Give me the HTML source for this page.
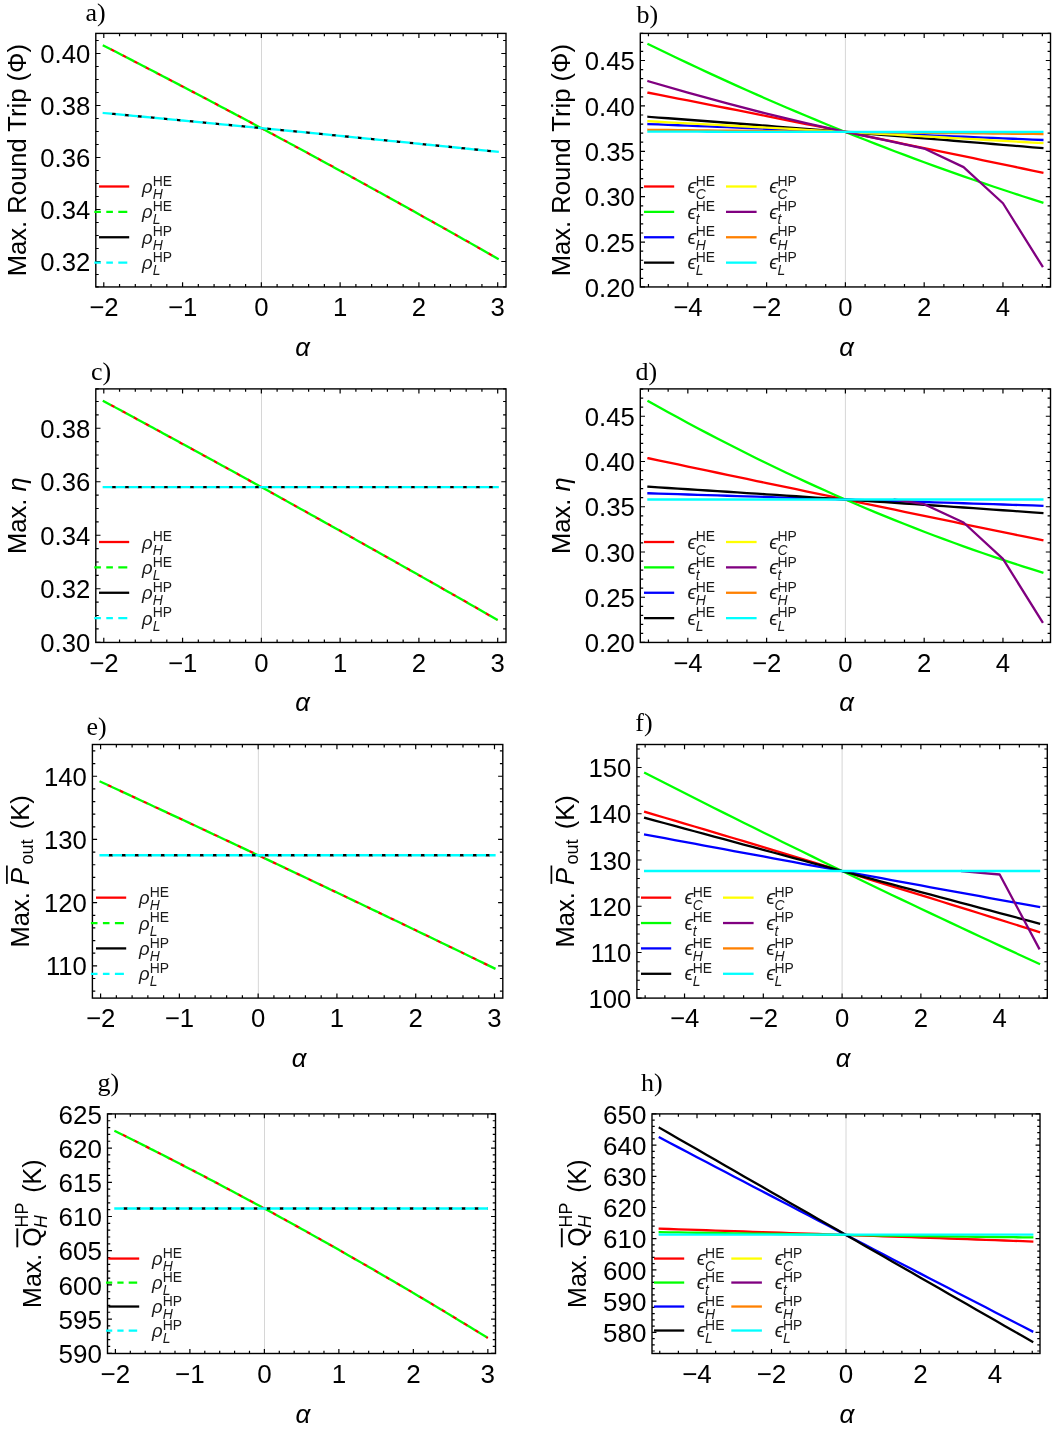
<!DOCTYPE html>
<html><head><meta charset="utf-8"><title>Figure</title>
<style>html,body{margin:0;padding:0;background:#fff}svg{display:block;will-change:transform}</style>
</head><body>
<svg width="1061" height="1430" viewBox="0 0 1061 1430" font-family='"Liberation Sans", sans-serif' fill="#000">
<rect width="1061" height="1430" fill="#fff"/>
<g>
<line x1="261.5" y1="33.4" x2="261.5" y2="286.95" stroke="#d6d6d6" stroke-width="1"/>
<clipPath id="cpa"><rect x="95.8" y="33.4" width="410.2" height="253.55"/></clipPath>
<g clip-path="url(#cpa)" fill="none" stroke-linejoin="round">
<polyline points="103.79,45.7 113.64,50.74 123.49,55.8 133.33,60.87 143.18,65.96 153.03,71.06 162.88,76.18 172.72,81.31 182.57,86.45 192.42,91.61 202.27,96.78 212.11,101.97 221.96,107.17 231.81,112.39 241.66,117.62 251.5,122.86 261.35,128.12 271.2,133.39 281.05,138.68 290.89,143.98 300.74,149.3 310.59,154.63 320.44,159.97 330.28,165.33 340.13,170.71 349.98,176.1 359.83,181.5 369.67,186.92 379.52,192.35 389.37,197.79 399.22,203.25 409.06,208.73 418.91,214.21 428.76,219.72 438.61,225.23 448.45,230.77 458.3,236.31 468.15,241.87 478,247.45 487.84,253.04 497.69,258.64" stroke="#ff0000" stroke-width="2.3" stroke-linecap="butt" stroke-dasharray="4.4 8.6" stroke-dashoffset="5.05"/>
<polyline points="103.79,45.7 113.64,50.74 123.49,55.8 133.33,60.87 143.18,65.96 153.03,71.06 162.88,76.18 172.72,81.31 182.57,86.45 192.42,91.61 202.27,96.78 212.11,101.97 221.96,107.17 231.81,112.39 241.66,117.62 251.5,122.86 261.35,128.12 271.2,133.39 281.05,138.68 290.89,143.98 300.74,149.3 310.59,154.63 320.44,159.97 330.28,165.33 340.13,170.71 349.98,176.1 359.83,181.5 369.67,186.92 379.52,192.35 389.37,197.79 399.22,203.25 409.06,208.73 418.91,214.21 428.76,219.72 438.61,225.23 448.45,230.77 458.3,236.31 468.15,241.87 478,247.45 487.84,253.04 497.69,258.64" stroke="#00ff00" stroke-width="2.3" stroke-linecap="square" stroke-dasharray="7.3 5.7"/>
<polyline points="103.79,113.04 113.64,113.97 123.49,114.89 133.33,115.83 143.18,116.76 153.03,117.69 162.88,118.63 172.72,119.57 182.57,120.51 192.42,121.45 202.27,122.4 212.11,123.35 221.96,124.3 231.81,125.25 241.66,126.2 251.5,127.16 261.35,128.12 271.2,129.08 281.05,130.04 290.89,131.01 300.74,131.98 310.59,132.95 320.44,133.92 330.28,134.89 340.13,135.87 349.98,136.85 359.83,137.83 369.67,138.81 379.52,139.79 389.37,140.78 399.22,141.77 409.06,142.76 418.91,143.75 428.76,144.75 438.61,145.75 448.45,146.75 458.3,147.75 468.15,148.75 478,149.76 487.84,150.77 497.69,151.78" stroke="#000000" stroke-width="2.3" stroke-linecap="butt" stroke-dasharray="4.4 8.6" stroke-dashoffset="5.05"/>
<polyline points="103.79,113.04 113.64,113.97 123.49,114.89 133.33,115.83 143.18,116.76 153.03,117.69 162.88,118.63 172.72,119.57 182.57,120.51 192.42,121.45 202.27,122.4 212.11,123.35 221.96,124.3 231.81,125.25 241.66,126.2 251.5,127.16 261.35,128.12 271.2,129.08 281.05,130.04 290.89,131.01 300.74,131.98 310.59,132.95 320.44,133.92 330.28,134.89 340.13,135.87 349.98,136.85 359.83,137.83 369.67,138.81 379.52,139.79 389.37,140.78 399.22,141.77 409.06,142.76 418.91,143.75 428.76,144.75 438.61,145.75 448.45,146.75 458.3,147.75 468.15,148.75 478,149.76 487.84,150.77 497.69,151.78" stroke="#00ffff" stroke-width="2.3" stroke-linecap="square" stroke-dasharray="7.3 5.7"/>
</g>
<text x="103.79" y="316.25" font-size="25.7" text-anchor="middle">−2</text>
<text x="182.57" y="316.25" font-size="25.7" text-anchor="middle">−1</text>
<text x="261.35" y="316.25" font-size="25.7" text-anchor="middle">0</text>
<text x="340.13" y="316.25" font-size="25.7" text-anchor="middle">1</text>
<text x="418.91" y="316.25" font-size="25.7" text-anchor="middle">2</text>
<text x="497.69" y="316.25" font-size="25.7" text-anchor="middle">3</text>
<text x="90.3" y="271.1" font-size="25.7" text-anchor="end">0.32</text>
<text x="90.3" y="219.1" font-size="25.7" text-anchor="end">0.34</text>
<text x="90.3" y="167.1" font-size="25.7" text-anchor="end">0.36</text>
<text x="90.3" y="115.1" font-size="25.7" text-anchor="end">0.38</text>
<text x="90.3" y="63.1" font-size="25.7" text-anchor="end">0.40</text>
<path d="M103.79 286.95v-4.7M103.79 33.4v4.7M119.55 286.95v-2.9M119.55 33.4v2.9M135.3 286.95v-2.9M135.3 33.4v2.9M151.06 286.95v-2.9M151.06 33.4v2.9M166.81 286.95v-2.9M166.81 33.4v2.9M182.57 286.95v-4.7M182.57 33.4v4.7M198.33 286.95v-2.9M198.33 33.4v2.9M214.08 286.95v-2.9M214.08 33.4v2.9M229.84 286.95v-2.9M229.84 33.4v2.9M245.59 286.95v-2.9M245.59 33.4v2.9M261.35 286.95v-4.7M261.35 33.4v4.7M277.11 286.95v-2.9M277.11 33.4v2.9M292.86 286.95v-2.9M292.86 33.4v2.9M308.62 286.95v-2.9M308.62 33.4v2.9M324.37 286.95v-2.9M324.37 33.4v2.9M340.13 286.95v-4.7M340.13 33.4v4.7M355.89 286.95v-2.9M355.89 33.4v2.9M371.64 286.95v-2.9M371.64 33.4v2.9M387.4 286.95v-2.9M387.4 33.4v2.9M403.15 286.95v-2.9M403.15 33.4v2.9M418.91 286.95v-4.7M418.91 33.4v4.7M434.67 286.95v-2.9M434.67 33.4v2.9M450.42 286.95v-2.9M450.42 33.4v2.9M466.18 286.95v-2.9M466.18 33.4v2.9M481.93 286.95v-2.9M481.93 33.4v2.9M497.69 286.95v-4.7M497.69 33.4v4.7M95.8 286.95h2.9M506 286.95h-2.9M95.8 274.5h2.9M506 274.5h-2.9M95.8 261.5h4.7M506 261.5h-4.7M95.8 248.5h2.9M506 248.5h-2.9M95.8 235.5h2.9M506 235.5h-2.9M95.8 222.5h2.9M506 222.5h-2.9M95.8 209.5h4.7M506 209.5h-4.7M95.8 196.5h2.9M506 196.5h-2.9M95.8 183.5h2.9M506 183.5h-2.9M95.8 170.5h2.9M506 170.5h-2.9M95.8 157.5h4.7M506 157.5h-4.7M95.8 144.5h2.9M506 144.5h-2.9M95.8 131.5h2.9M506 131.5h-2.9M95.8 118.5h2.9M506 118.5h-2.9M95.8 105.5h4.7M506 105.5h-4.7M95.8 92.5h2.9M506 92.5h-2.9M95.8 79.5h2.9M506 79.5h-2.9M95.8 66.5h2.9M506 66.5h-2.9M95.8 53.5h4.7M506 53.5h-4.7M95.8 40.5h2.9M506 40.5h-2.9" stroke="#000" stroke-width="1.2" fill="none"/>
<rect x="95.8" y="33.4" width="410.2" height="253.55" fill="none" stroke="#000" stroke-width="1.4"/>
<text x="302.5" y="356" font-size="25.7" font-style="italic" text-anchor="middle">α</text>
<g transform="translate(25.5 276.37) rotate(-90)"><text x="0" y="0" font-size="25.6">Max. Round Trip (Φ)</text></g>
<text x="85.5" y="21.2" font-family='"Liberation Serif", serif' font-size="26">a)</text>
<line x1="99" y1="186.5" x2="129.2" y2="186.5" stroke="#ff0000" stroke-width="2.3"/>
<text x="142.1" y="193" font-size="18.5" fill="#1a1a1a" font-style="italic">ρ</text><text x="152.7" y="185.7" font-size="13.9" fill="#1a1a1a">HE</text><text x="152.7" y="199" font-size="13.9" fill="#1a1a1a" font-style="italic">H</text>
<line x1="94.3" y1="211.88" x2="127.3" y2="211.88" stroke="#00ff00" stroke-width="2.3" stroke-dasharray="6.6 5.4 6.6 5.4 9 99"/>
<text x="142.1" y="218.38" font-size="18.5" fill="#1a1a1a" font-style="italic">ρ</text><text x="152.7" y="211.08" font-size="13.9" fill="#1a1a1a">HE</text><text x="152.7" y="224.38" font-size="13.9" fill="#1a1a1a" font-style="italic">L</text>
<line x1="99" y1="237.26" x2="129.2" y2="237.26" stroke="#000000" stroke-width="2.3"/>
<text x="142.1" y="243.76" font-size="18.5" fill="#1a1a1a" font-style="italic">ρ</text><text x="152.7" y="236.46" font-size="13.9" fill="#1a1a1a">HP</text><text x="152.7" y="249.76" font-size="13.9" fill="#1a1a1a" font-style="italic">H</text>
<line x1="94.3" y1="262.64" x2="127.3" y2="262.64" stroke="#00ffff" stroke-width="2.3" stroke-dasharray="6.6 5.4 6.6 5.4 9 99"/>
<text x="142.1" y="269.14" font-size="18.5" fill="#1a1a1a" font-style="italic">ρ</text><text x="152.7" y="261.84" font-size="13.9" fill="#1a1a1a">HP</text><text x="152.7" y="275.14" font-size="13.9" fill="#1a1a1a" font-style="italic">L</text>
</g>
<g>
<line x1="845.4" y1="33.4" x2="845.4" y2="286.95" stroke="#d6d6d6" stroke-width="1"/>
<clipPath id="cpb"><rect x="640.3" y="33.4" width="410.2" height="253.55"/></clipPath>
<g clip-path="url(#cpb)" fill="none" stroke-linejoin="round">
<polyline points="648.45,92.73 658.3,94.66 668.14,96.59 677.99,98.53 687.84,100.46 697.69,102.4 707.53,104.35 717.38,106.3 727.23,108.25 737.08,110.21 746.92,112.17 756.77,114.13 766.62,116.1 776.47,118.07 786.31,120.04 796.16,122.02 806.01,124 815.86,125.98 825.7,127.97 835.55,129.96 845.4,131.96 855.25,133.96 865.1,135.96 874.94,137.97 884.79,139.98 894.64,141.99 904.49,144.01 914.33,146.03 924.18,148.06 934.03,150.09 943.88,152.12 953.72,154.15 963.57,156.19 973.42,158.24 983.26,160.28 993.11,162.33 1002.96,164.39 1012.81,166.44 1022.65,168.5 1032.5,170.57 1042.35,172.64" stroke="#ff0000" stroke-width="2.3" stroke-linecap="square"/>
<polyline points="648.45,44.25 658.3,49.04 668.14,53.79 677.99,58.5 687.84,63.16 697.69,67.78 707.53,72.36 717.38,76.9 727.23,81.39 737.08,85.84 746.92,90.25 756.77,94.61 766.62,98.93 776.47,103.21 786.31,107.45 796.16,111.64 806.01,115.79 815.86,119.9 825.7,123.96 835.55,127.98 845.4,131.96 855.25,135.89 865.1,139.79 874.94,143.64 884.79,147.44 894.64,151.21 904.49,154.93 914.33,158.6 924.18,162.24 934.03,165.83 943.88,169.38 953.72,172.89 963.57,176.35 973.42,179.77 983.26,183.15 993.11,186.48 1002.96,189.77 1012.81,193.02 1022.65,196.23 1032.5,199.39 1042.35,202.51" stroke="#00ff00" stroke-width="2.3" stroke-linecap="square"/>
<polyline points="648.45,124.06 658.3,124.45 668.14,124.85 677.99,125.24 687.84,125.63 697.69,126.03 707.53,126.42 717.38,126.81 727.23,127.21 737.08,127.6 746.92,128 756.77,128.39 766.62,128.79 776.47,129.18 786.31,129.58 796.16,129.98 806.01,130.37 815.86,130.77 825.7,131.17 835.55,131.56 845.4,131.96 855.25,132.36 865.1,132.75 874.94,133.15 884.79,133.55 894.64,133.95 904.49,134.35 914.33,134.75 924.18,135.14 934.03,135.54 943.88,135.94 953.72,136.34 963.57,136.74 973.42,137.14 983.26,137.54 993.11,137.94 1002.96,138.34 1012.81,138.75 1022.65,139.15 1032.5,139.55 1042.35,139.95" stroke="#0000ff" stroke-width="2.3" stroke-linecap="square"/>
<polyline points="648.45,116.8 658.3,117.53 668.14,118.27 677.99,119.01 687.84,119.75 697.69,120.49 707.53,121.24 717.38,121.99 727.23,122.74 737.08,123.5 746.92,124.25 756.77,125.01 766.62,125.77 776.47,126.54 786.31,127.31 796.16,128.08 806.01,128.85 815.86,129.62 825.7,130.4 835.55,131.18 845.4,131.96 855.25,132.74 865.1,133.53 874.94,134.32 884.79,135.11 894.64,135.91 904.49,136.7 914.33,137.5 924.18,138.3 934.03,139.11 943.88,139.92 953.72,140.73 963.57,141.54 973.42,142.35 983.26,143.17 993.11,143.99 1002.96,144.81 1012.81,145.63 1022.65,146.46 1032.5,147.29 1042.35,148.12" stroke="#000000" stroke-width="2.3" stroke-linecap="square"/>
<polyline points="648.45,121.25 658.3,121.77 668.14,122.3 677.99,122.82 687.84,123.35 697.69,123.88 707.53,124.41 717.38,124.94 727.23,125.48 737.08,126.01 746.92,126.55 756.77,127.08 766.62,127.62 776.47,128.16 786.31,128.7 796.16,129.24 806.01,129.78 815.86,130.32 825.7,130.87 835.55,131.41 845.4,131.96 855.25,132.51 865.1,133.06 874.94,133.61 884.79,134.16 894.64,134.71 904.49,135.26 914.33,135.82 924.18,136.37 934.03,136.93 943.88,137.49 953.72,138.05 963.57,138.61 973.42,139.17 983.26,139.73 993.11,140.29 1002.96,140.86 1012.81,141.42 1022.65,141.99 1032.5,142.56 1042.35,143.13" stroke="#ffff00" stroke-width="2.3" stroke-linecap="square"/>
<polyline points="648.45,81.29 687.84,92.55 727.23,103.36 766.62,113.62 806.01,123.15 845.4,131.96 884.79,140.22 924.18,148.58 963.57,167.1 1002.96,203.24 1042.35,266.25" stroke="#800080" stroke-width="2.3" stroke-linecap="square"/>
<polyline points="648.45,129.78 658.3,129.89 668.14,130 677.99,130.11 687.84,130.22 697.69,130.33 707.53,130.44 717.38,130.55 727.23,130.66 737.08,130.77 746.92,130.88 756.77,130.99 766.62,131.1 776.47,131.21 786.31,131.32 796.16,131.42 806.01,131.53 815.86,131.64 825.7,131.75 835.55,131.85 845.4,131.96 855.25,132.07 865.1,132.17 874.94,132.28 884.79,132.38 894.64,132.49 904.49,132.6 914.33,132.7 924.18,132.81 934.03,132.91 943.88,133.02 953.72,133.12 963.57,133.22 973.42,133.33 983.26,133.43 993.11,133.53 1002.96,133.64 1012.81,133.74 1022.65,133.84 1032.5,133.95 1042.35,134.05" stroke="#ff8000" stroke-width="2.3" stroke-linecap="square"/>
<polyline points="648.45,131.6 658.3,131.62 668.14,131.65 677.99,131.67 687.84,131.7 697.69,131.72 707.53,131.74 717.38,131.76 727.23,131.79 737.08,131.8 746.92,131.82 756.77,131.84 766.62,131.86 776.47,131.87 786.31,131.89 796.16,131.9 806.01,131.92 815.86,131.93 825.7,131.94 835.55,131.95 845.4,131.96 855.25,131.97 865.1,131.98 874.94,131.98 884.79,131.99 894.64,131.99 904.49,132 914.33,132 924.18,132 934.03,132 943.88,132 953.72,132 963.57,132 973.42,132 983.26,132 993.11,131.99 1002.96,131.99 1012.81,131.98 1022.65,131.98 1032.5,131.97 1042.35,131.96" stroke="#00ffff" stroke-width="2.3" stroke-linecap="square"/>
</g>
<text x="687.84" y="316.25" font-size="25.7" text-anchor="middle">−4</text>
<text x="766.62" y="316.25" font-size="25.7" text-anchor="middle">−2</text>
<text x="845.4" y="316.25" font-size="25.7" text-anchor="middle">0</text>
<text x="924.18" y="316.25" font-size="25.7" text-anchor="middle">2</text>
<text x="1002.96" y="316.25" font-size="25.7" text-anchor="middle">4</text>
<text x="634.8" y="296.55" font-size="25.7" text-anchor="end">0.20</text>
<text x="634.8" y="251.7" font-size="25.7" text-anchor="end">0.25</text>
<text x="634.8" y="206.3" font-size="25.7" text-anchor="end">0.30</text>
<text x="634.8" y="160.9" font-size="25.7" text-anchor="end">0.35</text>
<text x="634.8" y="115.5" font-size="25.7" text-anchor="end">0.40</text>
<text x="634.8" y="70.1" font-size="25.7" text-anchor="end">0.45</text>
<path d="M648.45 286.95v-2.9M648.45 33.4v2.9M668.14 286.95v-2.9M668.14 33.4v2.9M687.84 286.95v-4.7M687.84 33.4v4.7M707.53 286.95v-2.9M707.53 33.4v2.9M727.23 286.95v-2.9M727.23 33.4v2.9M746.92 286.95v-2.9M746.92 33.4v2.9M766.62 286.95v-4.7M766.62 33.4v4.7M786.31 286.95v-2.9M786.31 33.4v2.9M806.01 286.95v-2.9M806.01 33.4v2.9M825.7 286.95v-2.9M825.7 33.4v2.9M845.4 286.95v-4.7M845.4 33.4v4.7M865.1 286.95v-2.9M865.1 33.4v2.9M884.79 286.95v-2.9M884.79 33.4v2.9M904.49 286.95v-2.9M904.49 33.4v2.9M924.18 286.95v-4.7M924.18 33.4v4.7M943.88 286.95v-2.9M943.88 33.4v2.9M963.57 286.95v-2.9M963.57 33.4v2.9M983.26 286.95v-2.9M983.26 33.4v2.9M1002.96 286.95v-4.7M1002.96 33.4v4.7M1022.65 286.95v-2.9M1022.65 33.4v2.9M1042.35 286.95v-2.9M1042.35 33.4v2.9M640.3 286.95h4.7M1050.5 286.95h-4.7M640.3 278.42h2.9M1050.5 278.42h-2.9M640.3 269.34h2.9M1050.5 269.34h-2.9M640.3 260.26h2.9M1050.5 260.26h-2.9M640.3 251.18h2.9M1050.5 251.18h-2.9M640.3 242.1h4.7M1050.5 242.1h-4.7M640.3 233.02h2.9M1050.5 233.02h-2.9M640.3 223.94h2.9M1050.5 223.94h-2.9M640.3 214.86h2.9M1050.5 214.86h-2.9M640.3 205.78h2.9M1050.5 205.78h-2.9M640.3 196.7h4.7M1050.5 196.7h-4.7M640.3 187.62h2.9M1050.5 187.62h-2.9M640.3 178.54h2.9M1050.5 178.54h-2.9M640.3 169.46h2.9M1050.5 169.46h-2.9M640.3 160.38h2.9M1050.5 160.38h-2.9M640.3 151.3h4.7M1050.5 151.3h-4.7M640.3 142.22h2.9M1050.5 142.22h-2.9M640.3 133.14h2.9M1050.5 133.14h-2.9M640.3 124.06h2.9M1050.5 124.06h-2.9M640.3 114.98h2.9M1050.5 114.98h-2.9M640.3 105.9h4.7M1050.5 105.9h-4.7M640.3 96.82h2.9M1050.5 96.82h-2.9M640.3 87.74h2.9M1050.5 87.74h-2.9M640.3 78.66h2.9M1050.5 78.66h-2.9M640.3 69.58h2.9M1050.5 69.58h-2.9M640.3 60.5h4.7M1050.5 60.5h-4.7M640.3 51.42h2.9M1050.5 51.42h-2.9M640.3 42.34h2.9M1050.5 42.34h-2.9M640.3 33.4h2.9M1050.5 33.4h-2.9" stroke="#000" stroke-width="1.2" fill="none"/>
<rect x="640.3" y="33.4" width="410.2" height="253.55" fill="none" stroke="#000" stroke-width="1.4"/>
<text x="846.5" y="356" font-size="25.7" font-style="italic" text-anchor="middle">α</text>
<g transform="translate(570 276.37) rotate(-90)"><text x="0" y="0" font-size="25.6">Max. Round Trip (Φ)</text></g>
<text x="636.5" y="22.7" font-family='"Liberation Serif", serif' font-size="26">b)</text>
<line x1="644" y1="186.5" x2="674.2" y2="186.5" stroke="#ff0000" stroke-width="2.3"/>
<text x="687.4" y="193.2" font-size="20" fill="#1a1a1a" font-style="italic">ϵ</text><text x="695.7" y="185.7" font-size="13.9" fill="#1a1a1a">HE</text><text x="695.7" y="199" font-size="13.9" fill="#1a1a1a" font-style="italic">C</text>
<line x1="644" y1="211.88" x2="674.2" y2="211.88" stroke="#00ff00" stroke-width="2.3"/>
<text x="687.4" y="218.58" font-size="20" fill="#1a1a1a" font-style="italic">ϵ</text><text x="695.7" y="211.08" font-size="13.9" fill="#1a1a1a">HE</text><text x="695.7" y="224.38" font-size="13.9" fill="#1a1a1a" font-style="italic">t</text>
<line x1="644" y1="237.26" x2="674.2" y2="237.26" stroke="#0000ff" stroke-width="2.3"/>
<text x="687.4" y="243.96" font-size="20" fill="#1a1a1a" font-style="italic">ϵ</text><text x="695.7" y="236.46" font-size="13.9" fill="#1a1a1a">HE</text><text x="695.7" y="249.76" font-size="13.9" fill="#1a1a1a" font-style="italic">H</text>
<line x1="644" y1="262.64" x2="674.2" y2="262.64" stroke="#000000" stroke-width="2.3"/>
<text x="687.4" y="269.34" font-size="20" fill="#1a1a1a" font-style="italic">ϵ</text><text x="695.7" y="261.84" font-size="13.9" fill="#1a1a1a">HE</text><text x="695.7" y="275.14" font-size="13.9" fill="#1a1a1a" font-style="italic">L</text>
<line x1="726" y1="186.5" x2="756.6" y2="186.5" stroke="#ffff00" stroke-width="2.3"/>
<text x="769.2" y="193.2" font-size="20" fill="#1a1a1a" font-style="italic">ϵ</text><text x="777.5" y="185.7" font-size="13.9" fill="#1a1a1a">HP</text><text x="777.5" y="199" font-size="13.9" fill="#1a1a1a" font-style="italic">C</text>
<line x1="726" y1="211.88" x2="756.6" y2="211.88" stroke="#800080" stroke-width="2.3"/>
<text x="769.2" y="218.58" font-size="20" fill="#1a1a1a" font-style="italic">ϵ</text><text x="777.5" y="211.08" font-size="13.9" fill="#1a1a1a">HP</text><text x="777.5" y="224.38" font-size="13.9" fill="#1a1a1a" font-style="italic">t</text>
<line x1="726" y1="237.26" x2="756.6" y2="237.26" stroke="#ff8000" stroke-width="2.3"/>
<text x="769.2" y="243.96" font-size="20" fill="#1a1a1a" font-style="italic">ϵ</text><text x="777.5" y="236.46" font-size="13.9" fill="#1a1a1a">HP</text><text x="777.5" y="249.76" font-size="13.9" fill="#1a1a1a" font-style="italic">H</text>
<line x1="726" y1="262.64" x2="756.6" y2="262.64" stroke="#00ffff" stroke-width="2.3"/>
<text x="769.2" y="269.34" font-size="20" fill="#1a1a1a" font-style="italic">ϵ</text><text x="777.5" y="261.84" font-size="13.9" fill="#1a1a1a">HP</text><text x="777.5" y="275.14" font-size="13.9" fill="#1a1a1a" font-style="italic">L</text>
</g>
<g>
<line x1="261.5" y1="388.9" x2="261.5" y2="642.45" stroke="#d6d6d6" stroke-width="1"/>
<clipPath id="cpc"><rect x="95.8" y="388.9" width="410.2" height="253.55"/></clipPath>
<g clip-path="url(#cpc)" fill="none" stroke-linejoin="round">
<polyline points="103.79,401.23 113.64,406.53 123.49,411.85 133.33,417.16 143.18,422.49 153.03,427.83 162.88,433.17 172.72,438.53 182.57,443.89 192.42,449.26 202.27,454.64 212.11,460.03 221.96,465.43 231.81,470.83 241.66,476.25 251.5,481.67 261.35,487.1 271.2,492.54 281.05,497.99 290.89,503.45 300.74,508.91 310.59,514.39 320.44,519.87 330.28,525.36 340.13,530.86 349.98,536.37 359.83,541.89 369.67,547.42 379.52,552.95 389.37,558.5 399.22,564.05 409.06,569.61 418.91,575.18 428.76,580.76 438.61,586.34 448.45,591.94 458.3,597.54 468.15,603.16 478,608.78 487.84,614.41 497.69,620.05" stroke="#ff0000" stroke-width="2.3" stroke-linecap="butt" stroke-dasharray="4.4 8.6" stroke-dashoffset="5.05"/>
<polyline points="103.79,401.23 113.64,406.53 123.49,411.85 133.33,417.16 143.18,422.49 153.03,427.83 162.88,433.17 172.72,438.53 182.57,443.89 192.42,449.26 202.27,454.64 212.11,460.03 221.96,465.43 231.81,470.83 241.66,476.25 251.5,481.67 261.35,487.1 271.2,492.54 281.05,497.99 290.89,503.45 300.74,508.91 310.59,514.39 320.44,519.87 330.28,525.36 340.13,530.86 349.98,536.37 359.83,541.89 369.67,547.42 379.52,552.95 389.37,558.5 399.22,564.05 409.06,569.61 418.91,575.18 428.76,580.76 438.61,586.34 448.45,591.94 458.3,597.54 468.15,603.16 478,608.78 487.84,614.41 497.69,620.05" stroke="#00ff00" stroke-width="2.3" stroke-linecap="square" stroke-dasharray="7.3 5.7"/>
<polyline points="103.79,487.1 497.69,487.1" stroke="#000000" stroke-width="2.3" stroke-linecap="butt" stroke-dasharray="4.4 8.6" stroke-dashoffset="5.05"/>
<polyline points="103.79,487.1 497.69,487.1" stroke="#00ffff" stroke-width="2.3" stroke-linecap="square" stroke-dasharray="7.3 5.7"/>
</g>
<text x="103.79" y="671.75" font-size="25.7" text-anchor="middle">−2</text>
<text x="182.57" y="671.75" font-size="25.7" text-anchor="middle">−1</text>
<text x="261.35" y="671.75" font-size="25.7" text-anchor="middle">0</text>
<text x="340.13" y="671.75" font-size="25.7" text-anchor="middle">1</text>
<text x="418.91" y="671.75" font-size="25.7" text-anchor="middle">2</text>
<text x="497.69" y="671.75" font-size="25.7" text-anchor="middle">3</text>
<text x="90.3" y="651.85" font-size="25.7" text-anchor="end">0.30</text>
<text x="90.3" y="598.35" font-size="25.7" text-anchor="end">0.32</text>
<text x="90.3" y="544.85" font-size="25.7" text-anchor="end">0.34</text>
<text x="90.3" y="491.35" font-size="25.7" text-anchor="end">0.36</text>
<text x="90.3" y="437.85" font-size="25.7" text-anchor="end">0.38</text>
<path d="M103.79 642.45v-4.7M103.79 388.9v4.7M119.55 642.45v-2.9M119.55 388.9v2.9M135.3 642.45v-2.9M135.3 388.9v2.9M151.06 642.45v-2.9M151.06 388.9v2.9M166.81 642.45v-2.9M166.81 388.9v2.9M182.57 642.45v-4.7M182.57 388.9v4.7M198.33 642.45v-2.9M198.33 388.9v2.9M214.08 642.45v-2.9M214.08 388.9v2.9M229.84 642.45v-2.9M229.84 388.9v2.9M245.59 642.45v-2.9M245.59 388.9v2.9M261.35 642.45v-4.7M261.35 388.9v4.7M277.11 642.45v-2.9M277.11 388.9v2.9M292.86 642.45v-2.9M292.86 388.9v2.9M308.62 642.45v-2.9M308.62 388.9v2.9M324.37 642.45v-2.9M324.37 388.9v2.9M340.13 642.45v-4.7M340.13 388.9v4.7M355.89 642.45v-2.9M355.89 388.9v2.9M371.64 642.45v-2.9M371.64 388.9v2.9M387.4 642.45v-2.9M387.4 388.9v2.9M403.15 642.45v-2.9M403.15 388.9v2.9M418.91 642.45v-4.7M418.91 388.9v4.7M434.67 642.45v-2.9M434.67 388.9v2.9M450.42 642.45v-2.9M450.42 388.9v2.9M466.18 642.45v-2.9M466.18 388.9v2.9M481.93 642.45v-2.9M481.93 388.9v2.9M497.69 642.45v-4.7M497.69 388.9v4.7M95.8 642.25h4.7M506 642.25h-4.7M95.8 628.88h2.9M506 628.88h-2.9M95.8 615.5h2.9M506 615.5h-2.9M95.8 602.12h2.9M506 602.12h-2.9M95.8 588.75h4.7M506 588.75h-4.7M95.8 575.37h2.9M506 575.37h-2.9M95.8 562h2.9M506 562h-2.9M95.8 548.62h2.9M506 548.62h-2.9M95.8 535.25h4.7M506 535.25h-4.7M95.8 521.87h2.9M506 521.87h-2.9M95.8 508.5h2.9M506 508.5h-2.9M95.8 495.12h2.9M506 495.12h-2.9M95.8 481.75h4.7M506 481.75h-4.7M95.8 468.38h2.9M506 468.38h-2.9M95.8 455h2.9M506 455h-2.9M95.8 441.62h2.9M506 441.62h-2.9M95.8 428.25h4.7M506 428.25h-4.7M95.8 414.87h2.9M506 414.87h-2.9M95.8 401.5h2.9M506 401.5h-2.9M95.8 388.9h2.9M506 388.9h-2.9" stroke="#000" stroke-width="1.2" fill="none"/>
<rect x="95.8" y="388.9" width="410.2" height="253.55" fill="none" stroke="#000" stroke-width="1.4"/>
<text x="302.5" y="711.2" font-size="25.7" font-style="italic" text-anchor="middle">α</text>
<g transform="translate(25.5 554.07) rotate(-90)"><text x="0" y="0" font-size="25.6">Max. </text><text x="62.58" y="0" font-size="25.6" font-style="italic">η</text></g>
<text x="91" y="380" font-family='"Liberation Serif", serif' font-size="26">c)</text>
<line x1="99" y1="542" x2="129.2" y2="542" stroke="#ff0000" stroke-width="2.3"/>
<text x="142.1" y="548.5" font-size="18.5" fill="#1a1a1a" font-style="italic">ρ</text><text x="152.7" y="541.2" font-size="13.9" fill="#1a1a1a">HE</text><text x="152.7" y="554.5" font-size="13.9" fill="#1a1a1a" font-style="italic">H</text>
<line x1="94.3" y1="567.38" x2="127.3" y2="567.38" stroke="#00ff00" stroke-width="2.3" stroke-dasharray="6.6 5.4 6.6 5.4 9 99"/>
<text x="142.1" y="573.88" font-size="18.5" fill="#1a1a1a" font-style="italic">ρ</text><text x="152.7" y="566.58" font-size="13.9" fill="#1a1a1a">HE</text><text x="152.7" y="579.88" font-size="13.9" fill="#1a1a1a" font-style="italic">L</text>
<line x1="99" y1="592.76" x2="129.2" y2="592.76" stroke="#000000" stroke-width="2.3"/>
<text x="142.1" y="599.26" font-size="18.5" fill="#1a1a1a" font-style="italic">ρ</text><text x="152.7" y="591.96" font-size="13.9" fill="#1a1a1a">HP</text><text x="152.7" y="605.26" font-size="13.9" fill="#1a1a1a" font-style="italic">H</text>
<line x1="94.3" y1="618.14" x2="127.3" y2="618.14" stroke="#00ffff" stroke-width="2.3" stroke-dasharray="6.6 5.4 6.6 5.4 9 99"/>
<text x="142.1" y="624.64" font-size="18.5" fill="#1a1a1a" font-style="italic">ρ</text><text x="152.7" y="617.34" font-size="13.9" fill="#1a1a1a">HP</text><text x="152.7" y="630.64" font-size="13.9" fill="#1a1a1a" font-style="italic">L</text>
</g>
<g>
<line x1="845.4" y1="388.9" x2="845.4" y2="642.45" stroke="#d6d6d6" stroke-width="1"/>
<clipPath id="cpd"><rect x="640.3" y="388.9" width="410.2" height="253.55"/></clipPath>
<g clip-path="url(#cpd)" fill="none" stroke-linejoin="round">
<polyline points="648.45,458.24 658.3,460.32 668.14,462.39 677.99,464.47 687.84,466.54 697.69,468.61 707.53,470.68 717.38,472.75 727.23,474.81 737.08,476.88 746.92,478.94 756.77,481.01 766.62,483.07 776.47,485.13 786.31,487.19 796.16,489.24 806.01,491.3 815.86,493.35 825.7,495.41 835.55,497.46 845.4,499.51 855.25,501.56 865.1,503.61 874.94,505.65 884.79,507.7 894.64,509.74 904.49,511.78 914.33,513.83 924.18,515.87 934.03,517.9 943.88,519.94 953.72,521.98 963.57,524.01 973.42,526.04 983.26,528.07 993.11,530.1 1002.96,532.13 1012.81,534.16 1022.65,536.19 1032.5,538.21 1042.35,540.24" stroke="#ff0000" stroke-width="2.3" stroke-linecap="square"/>
<polyline points="648.45,401.23 658.3,406.74 668.14,412.2 677.99,417.58 687.84,422.91 697.69,428.17 707.53,433.37 717.38,438.51 727.23,443.58 737.08,448.59 746.92,453.54 756.77,458.42 766.62,463.24 776.47,467.99 786.31,472.69 796.16,477.31 806.01,481.88 815.86,486.38 825.7,490.82 835.55,495.2 845.4,499.51 855.25,503.76 865.1,507.94 874.94,512.07 884.79,516.13 894.64,520.12 904.49,524.05 914.33,527.92 924.18,531.73 934.03,535.47 943.88,539.15 953.72,542.76 963.57,546.32 973.42,549.81 983.26,553.23 993.11,556.59 1002.96,559.89 1012.81,563.13 1022.65,566.3 1032.5,569.41 1042.35,572.45" stroke="#00ff00" stroke-width="2.3" stroke-linecap="square"/>
<polyline points="648.45,493.27 658.3,493.58 668.14,493.89 677.99,494.2 687.84,494.51 697.69,494.83 707.53,495.14 717.38,495.45 727.23,495.76 737.08,496.08 746.92,496.39 756.77,496.7 766.62,497.01 776.47,497.32 786.31,497.64 796.16,497.95 806.01,498.26 815.86,498.57 825.7,498.89 835.55,499.2 845.4,499.51 855.25,499.82 865.1,500.13 874.94,500.45 884.79,500.76 894.64,501.07 904.49,501.38 914.33,501.7 924.18,502.01 934.03,502.32 943.88,502.63 953.72,502.94 963.57,503.26 973.42,503.57 983.26,503.88 993.11,504.19 1002.96,504.51 1012.81,504.82 1022.65,505.13 1032.5,505.44 1042.35,505.75" stroke="#0000ff" stroke-width="2.3" stroke-linecap="square"/>
<polyline points="648.45,486.75 658.3,487.37 668.14,487.99 677.99,488.62 687.84,489.24 697.69,489.87 707.53,490.5 717.38,491.13 727.23,491.77 737.08,492.4 746.92,493.04 756.77,493.68 766.62,494.32 776.47,494.96 786.31,495.61 796.16,496.25 806.01,496.9 815.86,497.55 825.7,498.2 835.55,498.85 845.4,499.51 855.25,500.17 865.1,500.83 874.94,501.49 884.79,502.15 894.64,502.81 904.49,503.48 914.33,504.15 924.18,504.82 934.03,505.49 943.88,506.16 953.72,506.84 963.57,507.51 973.42,508.19 983.26,508.87 993.11,509.56 1002.96,510.24 1012.81,510.93 1022.65,511.61 1032.5,512.3 1042.35,512.99" stroke="#000000" stroke-width="2.3" stroke-linecap="square"/>
<polyline points="894.64,499.51 896.61,499.78 924.18,504.22 963.57,522.5 1002.96,558.79 1042.35,621.96" stroke="#800080" stroke-width="2.3" stroke-linecap="square"/>
<polyline points="648.45,499.51 1042.35,499.51" stroke="#00ffff" stroke-width="2.3" stroke-linecap="square"/>
</g>
<text x="687.84" y="671.75" font-size="25.7" text-anchor="middle">−4</text>
<text x="766.62" y="671.75" font-size="25.7" text-anchor="middle">−2</text>
<text x="845.4" y="671.75" font-size="25.7" text-anchor="middle">0</text>
<text x="924.18" y="671.75" font-size="25.7" text-anchor="middle">2</text>
<text x="1002.96" y="671.75" font-size="25.7" text-anchor="middle">4</text>
<text x="634.8" y="652.05" font-size="25.7" text-anchor="end">0.20</text>
<text x="634.8" y="606.85" font-size="25.7" text-anchor="end">0.25</text>
<text x="634.8" y="561.6" font-size="25.7" text-anchor="end">0.30</text>
<text x="634.8" y="516.35" font-size="25.7" text-anchor="end">0.35</text>
<text x="634.8" y="471.1" font-size="25.7" text-anchor="end">0.40</text>
<text x="634.8" y="425.85" font-size="25.7" text-anchor="end">0.45</text>
<path d="M648.45 642.45v-2.9M648.45 388.9v2.9M668.14 642.45v-2.9M668.14 388.9v2.9M687.84 642.45v-4.7M687.84 388.9v4.7M707.53 642.45v-2.9M707.53 388.9v2.9M727.23 642.45v-2.9M727.23 388.9v2.9M746.92 642.45v-2.9M746.92 388.9v2.9M766.62 642.45v-4.7M766.62 388.9v4.7M786.31 642.45v-2.9M786.31 388.9v2.9M806.01 642.45v-2.9M806.01 388.9v2.9M825.7 642.45v-2.9M825.7 388.9v2.9M845.4 642.45v-4.7M845.4 388.9v4.7M865.1 642.45v-2.9M865.1 388.9v2.9M884.79 642.45v-2.9M884.79 388.9v2.9M904.49 642.45v-2.9M904.49 388.9v2.9M924.18 642.45v-4.7M924.18 388.9v4.7M943.88 642.45v-2.9M943.88 388.9v2.9M963.57 642.45v-2.9M963.57 388.9v2.9M983.26 642.45v-2.9M983.26 388.9v2.9M1002.96 642.45v-4.7M1002.96 388.9v4.7M1022.65 642.45v-2.9M1022.65 388.9v2.9M1042.35 642.45v-2.9M1042.35 388.9v2.9M640.3 642.45h4.7M1050.5 642.45h-4.7M640.3 633.45h2.9M1050.5 633.45h-2.9M640.3 624.4h2.9M1050.5 624.4h-2.9M640.3 615.35h2.9M1050.5 615.35h-2.9M640.3 606.3h2.9M1050.5 606.3h-2.9M640.3 597.25h4.7M1050.5 597.25h-4.7M640.3 588.2h2.9M1050.5 588.2h-2.9M640.3 579.15h2.9M1050.5 579.15h-2.9M640.3 570.1h2.9M1050.5 570.1h-2.9M640.3 561.05h2.9M1050.5 561.05h-2.9M640.3 552h4.7M1050.5 552h-4.7M640.3 542.95h2.9M1050.5 542.95h-2.9M640.3 533.9h2.9M1050.5 533.9h-2.9M640.3 524.85h2.9M1050.5 524.85h-2.9M640.3 515.8h2.9M1050.5 515.8h-2.9M640.3 506.75h4.7M1050.5 506.75h-4.7M640.3 497.7h2.9M1050.5 497.7h-2.9M640.3 488.65h2.9M1050.5 488.65h-2.9M640.3 479.6h2.9M1050.5 479.6h-2.9M640.3 470.55h2.9M1050.5 470.55h-2.9M640.3 461.5h4.7M1050.5 461.5h-4.7M640.3 452.45h2.9M1050.5 452.45h-2.9M640.3 443.4h2.9M1050.5 443.4h-2.9M640.3 434.35h2.9M1050.5 434.35h-2.9M640.3 425.3h2.9M1050.5 425.3h-2.9M640.3 416.25h4.7M1050.5 416.25h-4.7M640.3 407.2h2.9M1050.5 407.2h-2.9M640.3 398.15h2.9M1050.5 398.15h-2.9M640.3 389.1h2.9M1050.5 389.1h-2.9" stroke="#000" stroke-width="1.2" fill="none"/>
<rect x="640.3" y="388.9" width="410.2" height="253.55" fill="none" stroke="#000" stroke-width="1.4"/>
<text x="846.5" y="711.2" font-size="25.7" font-style="italic" text-anchor="middle">α</text>
<g transform="translate(570 554.07) rotate(-90)"><text x="0" y="0" font-size="25.6">Max. </text><text x="62.58" y="0" font-size="25.6" font-style="italic">η</text></g>
<text x="635.4" y="380" font-family='"Liberation Serif", serif' font-size="26">d)</text>
<line x1="644" y1="542" x2="674.2" y2="542" stroke="#ff0000" stroke-width="2.3"/>
<text x="687.4" y="548.7" font-size="20" fill="#1a1a1a" font-style="italic">ϵ</text><text x="695.7" y="541.2" font-size="13.9" fill="#1a1a1a">HE</text><text x="695.7" y="554.5" font-size="13.9" fill="#1a1a1a" font-style="italic">C</text>
<line x1="644" y1="567.38" x2="674.2" y2="567.38" stroke="#00ff00" stroke-width="2.3"/>
<text x="687.4" y="574.08" font-size="20" fill="#1a1a1a" font-style="italic">ϵ</text><text x="695.7" y="566.58" font-size="13.9" fill="#1a1a1a">HE</text><text x="695.7" y="579.88" font-size="13.9" fill="#1a1a1a" font-style="italic">t</text>
<line x1="644" y1="592.76" x2="674.2" y2="592.76" stroke="#0000ff" stroke-width="2.3"/>
<text x="687.4" y="599.46" font-size="20" fill="#1a1a1a" font-style="italic">ϵ</text><text x="695.7" y="591.96" font-size="13.9" fill="#1a1a1a">HE</text><text x="695.7" y="605.26" font-size="13.9" fill="#1a1a1a" font-style="italic">H</text>
<line x1="644" y1="618.14" x2="674.2" y2="618.14" stroke="#000000" stroke-width="2.3"/>
<text x="687.4" y="624.84" font-size="20" fill="#1a1a1a" font-style="italic">ϵ</text><text x="695.7" y="617.34" font-size="13.9" fill="#1a1a1a">HE</text><text x="695.7" y="630.64" font-size="13.9" fill="#1a1a1a" font-style="italic">L</text>
<line x1="726" y1="542" x2="756.6" y2="542" stroke="#ffff00" stroke-width="2.3"/>
<text x="769.2" y="548.7" font-size="20" fill="#1a1a1a" font-style="italic">ϵ</text><text x="777.5" y="541.2" font-size="13.9" fill="#1a1a1a">HP</text><text x="777.5" y="554.5" font-size="13.9" fill="#1a1a1a" font-style="italic">C</text>
<line x1="726" y1="567.38" x2="756.6" y2="567.38" stroke="#800080" stroke-width="2.3"/>
<text x="769.2" y="574.08" font-size="20" fill="#1a1a1a" font-style="italic">ϵ</text><text x="777.5" y="566.58" font-size="13.9" fill="#1a1a1a">HP</text><text x="777.5" y="579.88" font-size="13.9" fill="#1a1a1a" font-style="italic">t</text>
<line x1="726" y1="592.76" x2="756.6" y2="592.76" stroke="#ff8000" stroke-width="2.3"/>
<text x="769.2" y="599.46" font-size="20" fill="#1a1a1a" font-style="italic">ϵ</text><text x="777.5" y="591.96" font-size="13.9" fill="#1a1a1a">HP</text><text x="777.5" y="605.26" font-size="13.9" fill="#1a1a1a" font-style="italic">H</text>
<line x1="726" y1="618.14" x2="756.6" y2="618.14" stroke="#00ffff" stroke-width="2.3"/>
<text x="769.2" y="624.84" font-size="20" fill="#1a1a1a" font-style="italic">ϵ</text><text x="777.5" y="617.34" font-size="13.9" fill="#1a1a1a">HP</text><text x="777.5" y="630.64" font-size="13.9" fill="#1a1a1a" font-style="italic">L</text>
</g>
<g>
<line x1="258.35" y1="744.5" x2="258.35" y2="998.1" stroke="#d6d6d6" stroke-width="1"/>
<clipPath id="cpe"><rect x="92.4" y="744.5" width="410.4" height="253.6"/></clipPath>
<g clip-path="url(#cpe)" fill="none" stroke-linejoin="round">
<polyline points="100.59,781.75 110.44,786.3 120.28,790.85 130.13,795.41 139.98,799.98 149.83,804.55 159.67,809.13 169.52,813.72 179.37,818.31 189.22,822.9 199.06,827.51 208.91,832.12 218.76,836.73 228.61,841.35 238.45,845.98 248.3,850.61 258.15,855.25 268,859.89 277.84,864.55 287.69,869.2 297.54,873.87 307.39,878.53 317.23,883.21 327.08,887.89 336.93,892.58 346.78,897.27 356.62,901.97 366.47,906.67 376.32,911.38 386.17,916.1 396.01,920.82 405.86,925.55 415.71,930.29 425.56,935.03 435.4,939.77 445.25,944.53 455.1,949.28 464.95,954.05 474.79,958.82 484.64,963.6 494.49,968.38" stroke="#ff0000" stroke-width="2.3" stroke-linecap="butt" stroke-dasharray="4.4 8.6" stroke-dashoffset="5.05"/>
<polyline points="100.59,781.75 110.44,786.3 120.28,790.85 130.13,795.41 139.98,799.98 149.83,804.55 159.67,809.13 169.52,813.72 179.37,818.31 189.22,822.9 199.06,827.51 208.91,832.12 218.76,836.73 228.61,841.35 238.45,845.98 248.3,850.61 258.15,855.25 268,859.89 277.84,864.55 287.69,869.2 297.54,873.87 307.39,878.53 317.23,883.21 327.08,887.89 336.93,892.58 346.78,897.27 356.62,901.97 366.47,906.67 376.32,911.38 386.17,916.1 396.01,920.82 405.86,925.55 415.71,930.29 425.56,935.03 435.4,939.77 445.25,944.53 455.1,949.28 464.95,954.05 474.79,958.82 484.64,963.6 494.49,968.38" stroke="#00ff00" stroke-width="2.3" stroke-linecap="square" stroke-dasharray="7.3 5.7"/>
<polyline points="100.59,855.25 494.49,855.25" stroke="#000000" stroke-width="2.3" stroke-linecap="butt" stroke-dasharray="4.4 8.6" stroke-dashoffset="5.05"/>
<polyline points="100.59,855.25 494.49,855.25" stroke="#00ffff" stroke-width="2.3" stroke-linecap="square" stroke-dasharray="7.3 5.7"/>
</g>
<text x="100.59" y="1027.4" font-size="25.7" text-anchor="middle">−2</text>
<text x="179.37" y="1027.4" font-size="25.7" text-anchor="middle">−1</text>
<text x="258.15" y="1027.4" font-size="25.7" text-anchor="middle">0</text>
<text x="336.93" y="1027.4" font-size="25.7" text-anchor="middle">1</text>
<text x="415.71" y="1027.4" font-size="25.7" text-anchor="middle">2</text>
<text x="494.49" y="1027.4" font-size="25.7" text-anchor="middle">3</text>
<text x="86.9" y="975.45" font-size="25.7" text-anchor="end">110</text>
<text x="86.9" y="912.25" font-size="25.7" text-anchor="end">120</text>
<text x="86.9" y="849.05" font-size="25.7" text-anchor="end">130</text>
<text x="86.9" y="785.85" font-size="25.7" text-anchor="end">140</text>
<path d="M100.59 998.1v-4.7M100.59 744.5v4.7M116.35 998.1v-2.9M116.35 744.5v2.9M132.1 998.1v-2.9M132.1 744.5v2.9M147.86 998.1v-2.9M147.86 744.5v2.9M163.61 998.1v-2.9M163.61 744.5v2.9M179.37 998.1v-4.7M179.37 744.5v4.7M195.13 998.1v-2.9M195.13 744.5v2.9M210.88 998.1v-2.9M210.88 744.5v2.9M226.64 998.1v-2.9M226.64 744.5v2.9M242.39 998.1v-2.9M242.39 744.5v2.9M258.15 998.1v-4.7M258.15 744.5v4.7M273.91 998.1v-2.9M273.91 744.5v2.9M289.66 998.1v-2.9M289.66 744.5v2.9M305.42 998.1v-2.9M305.42 744.5v2.9M321.17 998.1v-2.9M321.17 744.5v2.9M336.93 998.1v-4.7M336.93 744.5v4.7M352.69 998.1v-2.9M352.69 744.5v2.9M368.44 998.1v-2.9M368.44 744.5v2.9M384.2 998.1v-2.9M384.2 744.5v2.9M399.95 998.1v-2.9M399.95 744.5v2.9M415.71 998.1v-4.7M415.71 744.5v4.7M431.47 998.1v-2.9M431.47 744.5v2.9M447.22 998.1v-2.9M447.22 744.5v2.9M462.98 998.1v-2.9M462.98 744.5v2.9M478.73 998.1v-2.9M478.73 744.5v2.9M494.49 998.1v-4.7M494.49 744.5v4.7M92.4 991.13h2.9M502.8 991.13h-2.9M92.4 978.49h2.9M502.8 978.49h-2.9M92.4 965.85h4.7M502.8 965.85h-4.7M92.4 953.21h2.9M502.8 953.21h-2.9M92.4 940.57h2.9M502.8 940.57h-2.9M92.4 927.93h2.9M502.8 927.93h-2.9M92.4 915.29h2.9M502.8 915.29h-2.9M92.4 902.65h4.7M502.8 902.65h-4.7M92.4 890.01h2.9M502.8 890.01h-2.9M92.4 877.37h2.9M502.8 877.37h-2.9M92.4 864.73h2.9M502.8 864.73h-2.9M92.4 852.09h2.9M502.8 852.09h-2.9M92.4 839.45h4.7M502.8 839.45h-4.7M92.4 826.81h2.9M502.8 826.81h-2.9M92.4 814.17h2.9M502.8 814.17h-2.9M92.4 801.53h2.9M502.8 801.53h-2.9M92.4 788.89h2.9M502.8 788.89h-2.9M92.4 776.25h4.7M502.8 776.25h-4.7M92.4 763.61h2.9M502.8 763.61h-2.9M92.4 750.97h2.9M502.8 750.97h-2.9" stroke="#000" stroke-width="1.2" fill="none"/>
<rect x="92.4" y="744.5" width="410.4" height="253.6" fill="none" stroke="#000" stroke-width="1.4"/>
<text x="299" y="1066.8" font-size="25.7" font-style="italic" text-anchor="middle">α</text>
<g transform="translate(29.2 947.48) rotate(-90)"><text x="0" y="0" font-size="25.6">Max. </text><text x="62.58" y="0" font-size="25.6" font-style="italic">P</text><rect x="63.58" y="-23.15" width="18.4" height="1.7"/><text x="82.86" y="3.9" font-size="18.18">out</text><text x="118.24" y="0" font-size="25.6">(K)</text></g>
<text x="86.5" y="734.75" font-family='"Liberation Serif", serif' font-size="26">e)</text>
<line x1="96" y1="897.65" x2="126.2" y2="897.65" stroke="#ff0000" stroke-width="2.3"/>
<text x="139.1" y="904.15" font-size="18.5" fill="#1a1a1a" font-style="italic">ρ</text><text x="149.7" y="896.85" font-size="13.9" fill="#1a1a1a">HE</text><text x="149.7" y="910.15" font-size="13.9" fill="#1a1a1a" font-style="italic">H</text>
<line x1="90.9" y1="923.03" x2="123.9" y2="923.03" stroke="#00ff00" stroke-width="2.3" stroke-dasharray="6.6 5.4 6.6 5.4 9 99"/>
<text x="139.1" y="929.53" font-size="18.5" fill="#1a1a1a" font-style="italic">ρ</text><text x="149.7" y="922.23" font-size="13.9" fill="#1a1a1a">HE</text><text x="149.7" y="935.53" font-size="13.9" fill="#1a1a1a" font-style="italic">L</text>
<line x1="96" y1="948.41" x2="126.2" y2="948.41" stroke="#000000" stroke-width="2.3"/>
<text x="139.1" y="954.91" font-size="18.5" fill="#1a1a1a" font-style="italic">ρ</text><text x="149.7" y="947.61" font-size="13.9" fill="#1a1a1a">HP</text><text x="149.7" y="960.91" font-size="13.9" fill="#1a1a1a" font-style="italic">H</text>
<line x1="90.9" y1="973.79" x2="123.9" y2="973.79" stroke="#00ffff" stroke-width="2.3" stroke-dasharray="6.6 5.4 6.6 5.4 9 99"/>
<text x="139.1" y="980.29" font-size="18.5" fill="#1a1a1a" font-style="italic">ρ</text><text x="149.7" y="972.99" font-size="13.9" fill="#1a1a1a">HP</text><text x="149.7" y="986.29" font-size="13.9" fill="#1a1a1a" font-style="italic">L</text>
</g>
<g>
<line x1="842.1" y1="744.5" x2="842.1" y2="998.1" stroke="#d6d6d6" stroke-width="1"/>
<clipPath id="cpf"><rect x="636.9" y="744.5" width="410.4" height="253.6"/></clipPath>
<g clip-path="url(#cpf)" fill="none" stroke-linejoin="round">
<polyline points="645.15,811.9 655,814.81 664.85,817.73 674.69,820.65 684.54,823.57 694.39,826.5 704.24,829.43 714.08,832.37 723.93,835.32 733.78,838.26 743.62,841.22 753.47,844.17 763.32,847.14 773.17,850.1 783.01,853.08 792.86,856.05 802.71,859.03 812.56,862.02 822.4,865.01 832.25,868.01 842.1,871.01 851.95,874.01 861.8,877.02 871.64,880.04 881.49,883.06 891.34,886.08 901.19,889.11 911.03,892.14 920.88,895.18 930.73,898.22 940.58,901.27 950.42,904.32 960.27,907.38 970.12,910.44 979.97,913.51 989.81,916.58 999.66,919.66 1009.51,922.74 1019.36,925.83 1029.2,928.92 1039.05,932.01" stroke="#ff0000" stroke-width="2.3" stroke-linecap="square"/>
<polyline points="645.15,773.05 655,778.07 664.85,783.08 674.69,788.08 684.54,793.06 694.39,798.03 704.24,802.99 714.08,807.93 723.93,812.86 733.78,817.78 743.62,822.68 753.47,827.57 763.32,832.45 773.17,837.32 783.01,842.17 792.86,847.01 802.71,851.83 812.56,856.65 822.4,861.45 832.25,866.23 842.1,871.01 851.95,875.77 861.8,880.52 871.64,885.25 881.49,889.97 891.34,894.68 901.19,899.38 911.03,904.06 920.88,908.73 930.73,913.38 940.58,918.03 950.42,922.66 960.27,927.27 970.12,931.88 979.97,936.47 989.81,941.05 999.66,945.61 1009.51,950.16 1019.36,954.7 1029.2,959.23 1039.05,963.74" stroke="#00ff00" stroke-width="2.3" stroke-linecap="square"/>
<polyline points="645.15,834.56 655,836.4 664.85,838.23 674.69,840.06 684.54,841.89 694.39,843.72 704.24,845.54 714.08,847.37 723.93,849.2 733.78,851.02 743.62,852.84 753.47,854.66 763.32,856.48 773.17,858.3 783.01,860.12 792.86,861.94 802.71,863.76 812.56,865.57 822.4,867.38 832.25,869.2 842.1,871.01 851.95,872.82 861.8,874.63 871.64,876.43 881.49,878.24 891.34,880.05 901.19,881.85 911.03,883.65 920.88,885.46 930.73,887.26 940.58,889.06 950.42,890.86 960.27,892.65 970.12,894.45 979.97,896.24 989.81,898.04 999.66,899.83 1009.51,901.62 1019.36,903.41 1029.2,905.2 1039.05,906.99" stroke="#0000ff" stroke-width="2.3" stroke-linecap="square"/>
<polyline points="645.15,817.91 655,820.58 664.85,823.25 674.69,825.92 684.54,828.58 694.39,831.24 704.24,833.9 714.08,836.56 723.93,839.22 733.78,841.88 743.62,844.54 753.47,847.19 763.32,849.84 773.17,852.49 783.01,855.14 792.86,857.79 802.71,860.44 812.56,863.08 822.4,865.73 832.25,868.37 842.1,871.01 851.95,873.65 861.8,876.28 871.64,878.92 881.49,881.55 891.34,884.19 901.19,886.82 911.03,889.45 920.88,892.08 930.73,894.7 940.58,897.33 950.42,899.95 960.27,902.58 970.12,905.2 979.97,907.82 989.81,910.43 999.66,913.05 1009.51,915.67 1019.36,918.28 1029.2,920.89 1039.05,923.5" stroke="#000000" stroke-width="2.3" stroke-linecap="square"/>
<polyline points="962.24,871.1 964.21,871.28 999.66,874.52 1039.05,948.34" stroke="#800080" stroke-width="2.3" stroke-linecap="square"/>
<polyline points="645.15,871.01 1039.05,871.01" stroke="#00ffff" stroke-width="2.3" stroke-linecap="square"/>
</g>
<text x="684.54" y="1027.4" font-size="25.7" text-anchor="middle">−4</text>
<text x="763.32" y="1027.4" font-size="25.7" text-anchor="middle">−2</text>
<text x="842.1" y="1027.4" font-size="25.7" text-anchor="middle">0</text>
<text x="920.88" y="1027.4" font-size="25.7" text-anchor="middle">2</text>
<text x="999.66" y="1027.4" font-size="25.7" text-anchor="middle">4</text>
<text x="631.4" y="1007.7" font-size="25.7" text-anchor="end">100</text>
<text x="631.4" y="962.1" font-size="25.7" text-anchor="end">110</text>
<text x="631.4" y="915.85" font-size="25.7" text-anchor="end">120</text>
<text x="631.4" y="869.6" font-size="25.7" text-anchor="end">130</text>
<text x="631.4" y="823.35" font-size="25.7" text-anchor="end">140</text>
<text x="631.4" y="777.1" font-size="25.7" text-anchor="end">150</text>
<path d="M645.15 998.1v-2.9M645.15 744.5v2.9M664.85 998.1v-2.9M664.85 744.5v2.9M684.54 998.1v-4.7M684.54 744.5v4.7M704.24 998.1v-2.9M704.24 744.5v2.9M723.93 998.1v-2.9M723.93 744.5v2.9M743.62 998.1v-2.9M743.62 744.5v2.9M763.32 998.1v-4.7M763.32 744.5v4.7M783.01 998.1v-2.9M783.01 744.5v2.9M802.71 998.1v-2.9M802.71 744.5v2.9M822.4 998.1v-2.9M822.4 744.5v2.9M842.1 998.1v-4.7M842.1 744.5v4.7M861.8 998.1v-2.9M861.8 744.5v2.9M881.49 998.1v-2.9M881.49 744.5v2.9M901.19 998.1v-2.9M901.19 744.5v2.9M920.88 998.1v-4.7M920.88 744.5v4.7M940.58 998.1v-2.9M940.58 744.5v2.9M960.27 998.1v-2.9M960.27 744.5v2.9M979.97 998.1v-2.9M979.97 744.5v2.9M999.66 998.1v-4.7M999.66 744.5v4.7M1019.36 998.1v-2.9M1019.36 744.5v2.9M1039.05 998.1v-2.9M1039.05 744.5v2.9M636.9 998.1h4.7M1047.3 998.1h-4.7M636.9 989.5h2.9M1047.3 989.5h-2.9M636.9 980.25h2.9M1047.3 980.25h-2.9M636.9 971h2.9M1047.3 971h-2.9M636.9 961.75h2.9M1047.3 961.75h-2.9M636.9 952.5h4.7M1047.3 952.5h-4.7M636.9 943.25h2.9M1047.3 943.25h-2.9M636.9 934h2.9M1047.3 934h-2.9M636.9 924.75h2.9M1047.3 924.75h-2.9M636.9 915.5h2.9M1047.3 915.5h-2.9M636.9 906.25h4.7M1047.3 906.25h-4.7M636.9 897h2.9M1047.3 897h-2.9M636.9 887.75h2.9M1047.3 887.75h-2.9M636.9 878.5h2.9M1047.3 878.5h-2.9M636.9 869.25h2.9M1047.3 869.25h-2.9M636.9 860h4.7M1047.3 860h-4.7M636.9 850.75h2.9M1047.3 850.75h-2.9M636.9 841.5h2.9M1047.3 841.5h-2.9M636.9 832.25h2.9M1047.3 832.25h-2.9M636.9 823h2.9M1047.3 823h-2.9M636.9 813.75h4.7M1047.3 813.75h-4.7M636.9 804.5h2.9M1047.3 804.5h-2.9M636.9 795.25h2.9M1047.3 795.25h-2.9M636.9 786h2.9M1047.3 786h-2.9M636.9 776.75h2.9M1047.3 776.75h-2.9M636.9 767.5h4.7M1047.3 767.5h-4.7M636.9 758.25h2.9M1047.3 758.25h-2.9M636.9 749h2.9M1047.3 749h-2.9" stroke="#000" stroke-width="1.2" fill="none"/>
<rect x="636.9" y="744.5" width="410.4" height="253.6" fill="none" stroke="#000" stroke-width="1.4"/>
<text x="843" y="1066.8" font-size="25.7" font-style="italic" text-anchor="middle">α</text>
<g transform="translate(573.7 947.48) rotate(-90)"><text x="0" y="0" font-size="25.6">Max. </text><text x="62.58" y="0" font-size="25.6" font-style="italic">P</text><rect x="63.58" y="-23.15" width="18.4" height="1.7"/><text x="82.86" y="3.9" font-size="18.18">out</text><text x="118.24" y="0" font-size="25.6">(K)</text></g>
<text x="635.3" y="730.5" font-family='"Liberation Serif", serif' font-size="26">f)</text>
<line x1="641" y1="897.65" x2="671.2" y2="897.65" stroke="#ff0000" stroke-width="2.3"/>
<text x="684.4" y="904.35" font-size="20" fill="#1a1a1a" font-style="italic">ϵ</text><text x="692.7" y="896.85" font-size="13.9" fill="#1a1a1a">HE</text><text x="692.7" y="910.15" font-size="13.9" fill="#1a1a1a" font-style="italic">C</text>
<line x1="641" y1="923.03" x2="671.2" y2="923.03" stroke="#00ff00" stroke-width="2.3"/>
<text x="684.4" y="929.73" font-size="20" fill="#1a1a1a" font-style="italic">ϵ</text><text x="692.7" y="922.23" font-size="13.9" fill="#1a1a1a">HE</text><text x="692.7" y="935.53" font-size="13.9" fill="#1a1a1a" font-style="italic">t</text>
<line x1="641" y1="948.41" x2="671.2" y2="948.41" stroke="#0000ff" stroke-width="2.3"/>
<text x="684.4" y="955.11" font-size="20" fill="#1a1a1a" font-style="italic">ϵ</text><text x="692.7" y="947.61" font-size="13.9" fill="#1a1a1a">HE</text><text x="692.7" y="960.91" font-size="13.9" fill="#1a1a1a" font-style="italic">H</text>
<line x1="641" y1="973.79" x2="671.2" y2="973.79" stroke="#000000" stroke-width="2.3"/>
<text x="684.4" y="980.49" font-size="20" fill="#1a1a1a" font-style="italic">ϵ</text><text x="692.7" y="972.99" font-size="13.9" fill="#1a1a1a">HE</text><text x="692.7" y="986.29" font-size="13.9" fill="#1a1a1a" font-style="italic">L</text>
<line x1="723" y1="897.65" x2="753.6" y2="897.65" stroke="#ffff00" stroke-width="2.3"/>
<text x="766.2" y="904.35" font-size="20" fill="#1a1a1a" font-style="italic">ϵ</text><text x="774.5" y="896.85" font-size="13.9" fill="#1a1a1a">HP</text><text x="774.5" y="910.15" font-size="13.9" fill="#1a1a1a" font-style="italic">C</text>
<line x1="723" y1="923.03" x2="753.6" y2="923.03" stroke="#800080" stroke-width="2.3"/>
<text x="766.2" y="929.73" font-size="20" fill="#1a1a1a" font-style="italic">ϵ</text><text x="774.5" y="922.23" font-size="13.9" fill="#1a1a1a">HP</text><text x="774.5" y="935.53" font-size="13.9" fill="#1a1a1a" font-style="italic">t</text>
<line x1="723" y1="948.41" x2="753.6" y2="948.41" stroke="#ff8000" stroke-width="2.3"/>
<text x="766.2" y="955.11" font-size="20" fill="#1a1a1a" font-style="italic">ϵ</text><text x="774.5" y="947.61" font-size="13.9" fill="#1a1a1a">HP</text><text x="774.5" y="960.91" font-size="13.9" fill="#1a1a1a" font-style="italic">H</text>
<line x1="723" y1="973.79" x2="753.6" y2="973.79" stroke="#00ffff" stroke-width="2.3"/>
<text x="766.2" y="980.49" font-size="20" fill="#1a1a1a" font-style="italic">ϵ</text><text x="774.5" y="972.99" font-size="13.9" fill="#1a1a1a">HP</text><text x="774.5" y="986.29" font-size="13.9" fill="#1a1a1a" font-style="italic">L</text>
</g>
<g>
<line x1="264.5" y1="1113.9" x2="264.5" y2="1353.5" stroke="#d6d6d6" stroke-width="1"/>
<clipPath id="cpg"><rect x="107.5" y="1113.9" width="388" height="239.6"/></clipPath>
<g clip-path="url(#cpg)" fill="none" stroke-linejoin="round">
<polyline points="115.4,1131.21 124.71,1135.82 134.02,1140.47 143.33,1145.15 152.65,1149.85 161.96,1154.58 171.27,1159.34 180.58,1164.13 189.89,1168.95 199.2,1173.79 208.51,1178.67 217.82,1183.57 227.13,1188.5 236.45,1193.45 245.76,1198.44 255.07,1203.45 264.38,1208.5 273.69,1213.57 283,1218.67 292.31,1223.79 301.62,1228.95 310.94,1234.13 320.25,1239.34 329.56,1244.58 338.87,1249.85 348.18,1255.15 357.49,1260.47 366.8,1265.83 376.12,1271.21 385.43,1276.62 394.74,1282.05 404.05,1287.52 413.36,1293.01 422.67,1298.53 431.98,1304.08 441.29,1309.66 450.61,1315.27 459.92,1320.9 469.23,1326.57 478.54,1332.26 487.85,1337.98" stroke="#ff0000" stroke-width="2.3" stroke-linecap="butt" stroke-dasharray="4.4 8.6" stroke-dashoffset="5.05"/>
<polyline points="115.4,1131.21 124.71,1135.82 134.02,1140.47 143.33,1145.15 152.65,1149.85 161.96,1154.58 171.27,1159.34 180.58,1164.13 189.89,1168.95 199.2,1173.79 208.51,1178.67 217.82,1183.57 227.13,1188.5 236.45,1193.45 245.76,1198.44 255.07,1203.45 264.38,1208.5 273.69,1213.57 283,1218.67 292.31,1223.79 301.62,1228.95 310.94,1234.13 320.25,1239.34 329.56,1244.58 338.87,1249.85 348.18,1255.15 357.49,1260.47 366.8,1265.83 376.12,1271.21 385.43,1276.62 394.74,1282.05 404.05,1287.52 413.36,1293.01 422.67,1298.53 431.98,1304.08 441.29,1309.66 450.61,1315.27 459.92,1320.9 469.23,1326.57 478.54,1332.26 487.85,1337.98" stroke="#00ff00" stroke-width="2.3" stroke-linecap="square" stroke-dasharray="7.3 5.7"/>
<polyline points="115.4,1208.5 487.85,1208.5" stroke="#000000" stroke-width="2.3" stroke-linecap="butt" stroke-dasharray="4.4 8.6" stroke-dashoffset="5.05"/>
<polyline points="115.4,1208.5 487.85,1208.5" stroke="#00ffff" stroke-width="2.3" stroke-linecap="square" stroke-dasharray="7.3 5.7"/>
</g>
<text x="115.4" y="1382.8" font-size="26" text-anchor="middle">−2</text>
<text x="189.89" y="1382.8" font-size="26" text-anchor="middle">−1</text>
<text x="264.38" y="1382.8" font-size="26" text-anchor="middle">0</text>
<text x="338.87" y="1382.8" font-size="26" text-anchor="middle">1</text>
<text x="413.36" y="1382.8" font-size="26" text-anchor="middle">2</text>
<text x="487.85" y="1382.8" font-size="26" text-anchor="middle">3</text>
<text x="102" y="1363.01" font-size="26" text-anchor="end">590</text>
<text x="102" y="1328.81" font-size="26" text-anchor="end">595</text>
<text x="102" y="1294.61" font-size="26" text-anchor="end">600</text>
<text x="102" y="1260.41" font-size="26" text-anchor="end">605</text>
<text x="102" y="1226.21" font-size="26" text-anchor="end">610</text>
<text x="102" y="1192.01" font-size="26" text-anchor="end">615</text>
<text x="102" y="1157.81" font-size="26" text-anchor="end">620</text>
<text x="102" y="1123.61" font-size="26" text-anchor="end">625</text>
<path d="M115.4 1353.5v-4.44M115.4 1113.9v4.44M130.3 1353.5v-2.74M130.3 1113.9v2.74M145.2 1353.5v-2.74M145.2 1113.9v2.74M160.09 1353.5v-2.74M160.09 1113.9v2.74M174.99 1353.5v-2.74M174.99 1113.9v2.74M189.89 1353.5v-4.44M189.89 1113.9v4.44M204.79 1353.5v-2.74M204.79 1113.9v2.74M219.69 1353.5v-2.74M219.69 1113.9v2.74M234.58 1353.5v-2.74M234.58 1113.9v2.74M249.48 1353.5v-2.74M249.48 1113.9v2.74M264.38 1353.5v-4.44M264.38 1113.9v4.44M279.28 1353.5v-2.74M279.28 1113.9v2.74M294.18 1353.5v-2.74M294.18 1113.9v2.74M309.07 1353.5v-2.74M309.07 1113.9v2.74M323.97 1353.5v-2.74M323.97 1113.9v2.74M338.87 1353.5v-4.44M338.87 1113.9v4.44M353.77 1353.5v-2.74M353.77 1113.9v2.74M368.67 1353.5v-2.74M368.67 1113.9v2.74M383.56 1353.5v-2.74M383.56 1113.9v2.74M398.46 1353.5v-2.74M398.46 1113.9v2.74M413.36 1353.5v-4.44M413.36 1113.9v4.44M428.26 1353.5v-2.74M428.26 1113.9v2.74M443.16 1353.5v-2.74M443.16 1113.9v2.74M458.05 1353.5v-2.74M458.05 1113.9v2.74M472.95 1353.5v-2.74M472.95 1113.9v2.74M487.85 1353.5v-4.44M487.85 1113.9v4.44M107.5 1353.3h4.44M495.5 1353.3h-4.44M107.5 1346.46h2.74M495.5 1346.46h-2.74M107.5 1339.62h2.74M495.5 1339.62h-2.74M107.5 1332.78h2.74M495.5 1332.78h-2.74M107.5 1325.94h2.74M495.5 1325.94h-2.74M107.5 1319.1h4.44M495.5 1319.1h-4.44M107.5 1312.26h2.74M495.5 1312.26h-2.74M107.5 1305.42h2.74M495.5 1305.42h-2.74M107.5 1298.58h2.74M495.5 1298.58h-2.74M107.5 1291.74h2.74M495.5 1291.74h-2.74M107.5 1284.9h4.44M495.5 1284.9h-4.44M107.5 1278.06h2.74M495.5 1278.06h-2.74M107.5 1271.22h2.74M495.5 1271.22h-2.74M107.5 1264.38h2.74M495.5 1264.38h-2.74M107.5 1257.54h2.74M495.5 1257.54h-2.74M107.5 1250.7h4.44M495.5 1250.7h-4.44M107.5 1243.86h2.74M495.5 1243.86h-2.74M107.5 1237.02h2.74M495.5 1237.02h-2.74M107.5 1230.18h2.74M495.5 1230.18h-2.74M107.5 1223.34h2.74M495.5 1223.34h-2.74M107.5 1216.5h4.44M495.5 1216.5h-4.44M107.5 1209.66h2.74M495.5 1209.66h-2.74M107.5 1202.82h2.74M495.5 1202.82h-2.74M107.5 1195.98h2.74M495.5 1195.98h-2.74M107.5 1189.14h2.74M495.5 1189.14h-2.74M107.5 1182.3h4.44M495.5 1182.3h-4.44M107.5 1175.46h2.74M495.5 1175.46h-2.74M107.5 1168.62h2.74M495.5 1168.62h-2.74M107.5 1161.78h2.74M495.5 1161.78h-2.74M107.5 1154.94h2.74M495.5 1154.94h-2.74M107.5 1148.1h4.44M495.5 1148.1h-4.44M107.5 1141.26h2.74M495.5 1141.26h-2.74M107.5 1134.42h2.74M495.5 1134.42h-2.74M107.5 1127.58h2.74M495.5 1127.58h-2.74M107.5 1120.74h2.74M495.5 1120.74h-2.74M107.5 1113.9h4.44M495.5 1113.9h-4.44" stroke="#000" stroke-width="1.2" fill="none"/>
<rect x="107.5" y="1113.9" width="388" height="239.6" fill="none" stroke="#000" stroke-width="1.4"/>
<text x="303" y="1422.8" font-size="26" font-style="italic" text-anchor="middle">α</text>
<g transform="translate(41.1 1307.95) rotate(-90)"><text x="0" y="0" font-size="25">Max. </text><text x="61.12" y="0" font-size="25">Q</text><rect x="60.62" y="-24.75" width="19" height="1.9"/><text x="80.56" y="-13.4" font-size="17.75">HP</text><text x="80.06" y="5.7" font-size="17.75" font-style="italic">H</text><text x="115.17" y="0" font-size="25">(K)</text></g>
<text x="97.5" y="1091.2" font-family='"Liberation Serif", serif' font-size="26">g)</text>
<line x1="108.3" y1="1258.57" x2="139.2" y2="1258.57" stroke="#ff0000" stroke-width="2.3"/>
<text x="152.1" y="1265.07" font-size="18.5" fill="#1a1a1a" font-style="italic">ρ</text><text x="162.7" y="1257.77" font-size="13.9" fill="#1a1a1a">HE</text><text x="162.7" y="1271.07" font-size="13.9" fill="#1a1a1a" font-style="italic">H</text>
<line x1="106" y1="1282.56" x2="137.19" y2="1282.56" stroke="#00ff00" stroke-width="2.3" stroke-dasharray="6.24 5.1 6.24 5.1 8.5 99"/>
<text x="152.1" y="1289.06" font-size="18.5" fill="#1a1a1a" font-style="italic">ρ</text><text x="162.7" y="1281.76" font-size="13.9" fill="#1a1a1a">HE</text><text x="162.7" y="1295.06" font-size="13.9" fill="#1a1a1a" font-style="italic">L</text>
<line x1="108.3" y1="1306.54" x2="139.2" y2="1306.54" stroke="#000000" stroke-width="2.3"/>
<text x="152.1" y="1313.04" font-size="18.5" fill="#1a1a1a" font-style="italic">ρ</text><text x="162.7" y="1305.74" font-size="13.9" fill="#1a1a1a">HP</text><text x="162.7" y="1319.04" font-size="13.9" fill="#1a1a1a" font-style="italic">H</text>
<line x1="106" y1="1330.53" x2="137.19" y2="1330.53" stroke="#00ffff" stroke-width="2.3" stroke-dasharray="6.24 5.1 6.24 5.1 8.5 99"/>
<text x="152.1" y="1337.03" font-size="18.5" fill="#1a1a1a" font-style="italic">ρ</text><text x="162.7" y="1329.73" font-size="13.9" fill="#1a1a1a">HP</text><text x="162.7" y="1343.03" font-size="13.9" fill="#1a1a1a" font-style="italic">L</text>
</g>
<g>
<line x1="846.03" y1="1113.9" x2="846.03" y2="1353.5" stroke="#d6d6d6" stroke-width="1"/>
<clipPath id="cph"><rect x="652" y="1113.9" width="388" height="239.6"/></clipPath>
<g clip-path="url(#cph)" fill="none" stroke-linejoin="round">
<polyline points="659.75,1228.72 669.06,1229.02 678.38,1229.33 687.69,1229.63 697,1229.94 706.31,1230.25 715.62,1230.56 724.94,1230.86 734.25,1231.17 743.56,1231.49 752.88,1231.8 762.19,1232.11 771.5,1232.42 780.81,1232.74 790.12,1233.05 799.44,1233.37 808.75,1233.68 818.06,1234 827.38,1234.32 836.69,1234.64 846,1234.96 855.31,1235.28 864.62,1235.6 873.94,1235.92 883.25,1236.24 892.56,1236.56 901.88,1236.89 911.19,1237.21 920.5,1237.54 929.81,1237.87 939.12,1238.19 948.44,1238.52 957.75,1238.85 967.06,1239.18 976.38,1239.51 985.69,1239.84 995,1240.17 1004.31,1240.51 1013.62,1240.84 1022.94,1241.17 1032.25,1241.51" stroke="#ff0000" stroke-width="2.3" stroke-linecap="square"/>
<polyline points="659.75,1232.15 669.06,1232.3 678.38,1232.44 687.69,1232.59 697,1232.73 706.31,1232.88 715.62,1233.02 724.94,1233.17 734.25,1233.31 743.56,1233.45 752.88,1233.59 762.19,1233.73 771.5,1233.87 780.81,1234.01 790.12,1234.15 799.44,1234.28 808.75,1234.42 818.06,1234.55 827.38,1234.69 836.69,1234.82 846,1234.96 855.31,1235.09 864.62,1235.22 873.94,1235.35 883.25,1235.48 892.56,1235.61 901.88,1235.74 911.19,1235.87 920.5,1235.99 929.81,1236.12 939.12,1236.24 948.44,1236.37 957.75,1236.49 967.06,1236.61 976.38,1236.74 985.69,1236.86 995,1236.98 1004.31,1237.1 1013.62,1237.22 1022.94,1237.33 1032.25,1237.45" stroke="#00ff00" stroke-width="2.3" stroke-linecap="square"/>
<polyline points="659.75,1137.61 669.06,1142.5 678.38,1147.39 687.69,1152.27 697,1157.16 706.31,1162.04 715.62,1166.91 724.94,1171.79 734.25,1176.66 743.56,1181.53 752.88,1186.4 762.19,1191.27 771.5,1196.13 780.81,1200.99 790.12,1205.85 799.44,1210.71 808.75,1215.56 818.06,1220.41 827.38,1225.26 836.69,1230.11 846,1234.96 855.31,1239.8 864.62,1244.64 873.94,1249.48 883.25,1254.31 892.56,1259.15 901.88,1263.98 911.19,1268.81 920.5,1273.63 929.81,1278.46 939.12,1283.28 948.44,1288.1 957.75,1292.91 967.06,1297.73 976.38,1302.54 985.69,1307.35 995,1312.16 1004.31,1316.96 1013.62,1321.77 1022.94,1326.57 1032.25,1331.36" stroke="#0000ff" stroke-width="2.3" stroke-linecap="square"/>
<polyline points="659.75,1127.94 669.06,1133.3 678.38,1138.66 687.69,1144.01 697,1149.37 706.31,1154.72 715.62,1160.08 724.94,1165.43 734.25,1170.78 743.56,1176.14 752.88,1181.49 762.19,1186.84 771.5,1192.19 780.81,1197.54 790.12,1202.88 799.44,1208.23 808.75,1213.58 818.06,1218.92 827.38,1224.27 836.69,1229.61 846,1234.96 855.31,1240.3 864.62,1245.64 873.94,1250.98 883.25,1256.32 892.56,1261.66 901.88,1267 911.19,1272.34 920.5,1277.68 929.81,1283.01 939.12,1288.35 948.44,1293.68 957.75,1299.02 967.06,1304.35 976.38,1309.68 985.69,1315.01 995,1320.34 1004.31,1325.67 1013.62,1331 1022.94,1336.33 1032.25,1341.66" stroke="#000000" stroke-width="2.3" stroke-linecap="square"/>
<polyline points="659.75,1234.64 1032.25,1234.64" stroke="#00ffff" stroke-width="2.3" stroke-linecap="square"/>
</g>
<text x="697" y="1382.8" font-size="26" text-anchor="middle">−4</text>
<text x="771.5" y="1382.8" font-size="26" text-anchor="middle">−2</text>
<text x="846" y="1382.8" font-size="26" text-anchor="middle">0</text>
<text x="920.5" y="1382.8" font-size="26" text-anchor="middle">2</text>
<text x="995" y="1382.8" font-size="26" text-anchor="middle">4</text>
<text x="646.5" y="1342.01" font-size="26" text-anchor="end">580</text>
<text x="646.5" y="1310.81" font-size="26" text-anchor="end">590</text>
<text x="646.5" y="1279.61" font-size="26" text-anchor="end">600</text>
<text x="646.5" y="1248.41" font-size="26" text-anchor="end">610</text>
<text x="646.5" y="1217.21" font-size="26" text-anchor="end">620</text>
<text x="646.5" y="1186.01" font-size="26" text-anchor="end">630</text>
<text x="646.5" y="1154.81" font-size="26" text-anchor="end">640</text>
<text x="646.5" y="1123.61" font-size="26" text-anchor="end">650</text>
<path d="M659.75 1353.5v-2.74M659.75 1113.9v2.74M678.38 1353.5v-2.74M678.38 1113.9v2.74M697 1353.5v-4.44M697 1113.9v4.44M715.62 1353.5v-2.74M715.62 1113.9v2.74M734.25 1353.5v-2.74M734.25 1113.9v2.74M752.88 1353.5v-2.74M752.88 1113.9v2.74M771.5 1353.5v-4.44M771.5 1113.9v4.44M790.12 1353.5v-2.74M790.12 1113.9v2.74M808.75 1353.5v-2.74M808.75 1113.9v2.74M827.38 1353.5v-2.74M827.38 1113.9v2.74M846 1353.5v-4.44M846 1113.9v4.44M864.62 1353.5v-2.74M864.62 1113.9v2.74M883.25 1353.5v-2.74M883.25 1113.9v2.74M901.88 1353.5v-2.74M901.88 1113.9v2.74M920.5 1353.5v-4.44M920.5 1113.9v4.44M939.12 1353.5v-2.74M939.12 1113.9v2.74M957.75 1353.5v-2.74M957.75 1113.9v2.74M976.38 1353.5v-2.74M976.38 1113.9v2.74M995 1353.5v-4.44M995 1113.9v4.44M1013.62 1353.5v-2.74M1013.62 1113.9v2.74M1032.25 1353.5v-2.74M1032.25 1113.9v2.74M652 1351.02h2.74M1040 1351.02h-2.74M652 1344.78h2.74M1040 1344.78h-2.74M652 1338.54h2.74M1040 1338.54h-2.74M652 1332.3h4.44M1040 1332.3h-4.44M652 1326.06h2.74M1040 1326.06h-2.74M652 1319.82h2.74M1040 1319.82h-2.74M652 1313.58h2.74M1040 1313.58h-2.74M652 1307.34h2.74M1040 1307.34h-2.74M652 1301.1h4.44M1040 1301.1h-4.44M652 1294.86h2.74M1040 1294.86h-2.74M652 1288.62h2.74M1040 1288.62h-2.74M652 1282.38h2.74M1040 1282.38h-2.74M652 1276.14h2.74M1040 1276.14h-2.74M652 1269.9h4.44M1040 1269.9h-4.44M652 1263.66h2.74M1040 1263.66h-2.74M652 1257.42h2.74M1040 1257.42h-2.74M652 1251.18h2.74M1040 1251.18h-2.74M652 1244.94h2.74M1040 1244.94h-2.74M652 1238.7h4.44M1040 1238.7h-4.44M652 1232.46h2.74M1040 1232.46h-2.74M652 1226.22h2.74M1040 1226.22h-2.74M652 1219.98h2.74M1040 1219.98h-2.74M652 1213.74h2.74M1040 1213.74h-2.74M652 1207.5h4.44M1040 1207.5h-4.44M652 1201.26h2.74M1040 1201.26h-2.74M652 1195.02h2.74M1040 1195.02h-2.74M652 1188.78h2.74M1040 1188.78h-2.74M652 1182.54h2.74M1040 1182.54h-2.74M652 1176.3h4.44M1040 1176.3h-4.44M652 1170.06h2.74M1040 1170.06h-2.74M652 1163.82h2.74M1040 1163.82h-2.74M652 1157.58h2.74M1040 1157.58h-2.74M652 1151.34h2.74M1040 1151.34h-2.74M652 1145.1h4.44M1040 1145.1h-4.44M652 1138.86h2.74M1040 1138.86h-2.74M652 1132.62h2.74M1040 1132.62h-2.74M652 1126.38h2.74M1040 1126.38h-2.74M652 1120.14h2.74M1040 1120.14h-2.74M652 1113.9h4.44M1040 1113.9h-4.44" stroke="#000" stroke-width="1.2" fill="none"/>
<rect x="652" y="1113.9" width="388" height="239.6" fill="none" stroke="#000" stroke-width="1.4"/>
<text x="847" y="1422.8" font-size="26" font-style="italic" text-anchor="middle">α</text>
<g transform="translate(585.6 1307.95) rotate(-90)"><text x="0" y="0" font-size="25">Max. </text><text x="61.12" y="0" font-size="25">Q</text><rect x="60.62" y="-24.75" width="19" height="1.9"/><text x="80.56" y="-13.4" font-size="17.75">HP</text><text x="80.06" y="5.7" font-size="17.75" font-style="italic">H</text><text x="115.17" y="0" font-size="25">(K)</text></g>
<text x="641" y="1091.2" font-family='"Liberation Serif", serif' font-size="26">h)</text>
<line x1="654" y1="1258.57" x2="684.2" y2="1258.57" stroke="#ff0000" stroke-width="2.3"/>
<text x="696.8" y="1265.27" font-size="20" fill="#1a1a1a" font-style="italic">ϵ</text><text x="705.1" y="1257.77" font-size="13.9" fill="#1a1a1a">HE</text><text x="705.1" y="1271.07" font-size="13.9" fill="#1a1a1a" font-style="italic">C</text>
<line x1="654" y1="1282.56" x2="684.2" y2="1282.56" stroke="#00ff00" stroke-width="2.3"/>
<text x="696.8" y="1289.26" font-size="20" fill="#1a1a1a" font-style="italic">ϵ</text><text x="705.1" y="1281.76" font-size="13.9" fill="#1a1a1a">HE</text><text x="705.1" y="1295.06" font-size="13.9" fill="#1a1a1a" font-style="italic">t</text>
<line x1="654" y1="1306.54" x2="684.2" y2="1306.54" stroke="#0000ff" stroke-width="2.3"/>
<text x="696.8" y="1313.24" font-size="20" fill="#1a1a1a" font-style="italic">ϵ</text><text x="705.1" y="1305.74" font-size="13.9" fill="#1a1a1a">HE</text><text x="705.1" y="1319.04" font-size="13.9" fill="#1a1a1a" font-style="italic">H</text>
<line x1="654" y1="1330.53" x2="684.2" y2="1330.53" stroke="#000000" stroke-width="2.3"/>
<text x="696.8" y="1337.23" font-size="20" fill="#1a1a1a" font-style="italic">ϵ</text><text x="705.1" y="1329.73" font-size="13.9" fill="#1a1a1a">HE</text><text x="705.1" y="1343.03" font-size="13.9" fill="#1a1a1a" font-style="italic">L</text>
<line x1="731.3" y1="1258.57" x2="761.9" y2="1258.57" stroke="#ffff00" stroke-width="2.3"/>
<text x="774.7" y="1265.27" font-size="20" fill="#1a1a1a" font-style="italic">ϵ</text><text x="783" y="1257.77" font-size="13.9" fill="#1a1a1a">HP</text><text x="783" y="1271.07" font-size="13.9" fill="#1a1a1a" font-style="italic">C</text>
<line x1="731.3" y1="1282.56" x2="761.9" y2="1282.56" stroke="#800080" stroke-width="2.3"/>
<text x="774.7" y="1289.26" font-size="20" fill="#1a1a1a" font-style="italic">ϵ</text><text x="783" y="1281.76" font-size="13.9" fill="#1a1a1a">HP</text><text x="783" y="1295.06" font-size="13.9" fill="#1a1a1a" font-style="italic">t</text>
<line x1="731.3" y1="1306.54" x2="761.9" y2="1306.54" stroke="#ff8000" stroke-width="2.3"/>
<text x="774.7" y="1313.24" font-size="20" fill="#1a1a1a" font-style="italic">ϵ</text><text x="783" y="1305.74" font-size="13.9" fill="#1a1a1a">HP</text><text x="783" y="1319.04" font-size="13.9" fill="#1a1a1a" font-style="italic">H</text>
<line x1="731.3" y1="1330.53" x2="761.9" y2="1330.53" stroke="#00ffff" stroke-width="2.3"/>
<text x="774.7" y="1337.23" font-size="20" fill="#1a1a1a" font-style="italic">ϵ</text><text x="783" y="1329.73" font-size="13.9" fill="#1a1a1a">HP</text><text x="783" y="1343.03" font-size="13.9" fill="#1a1a1a" font-style="italic">L</text>
</g>
</svg>
</body></html>
